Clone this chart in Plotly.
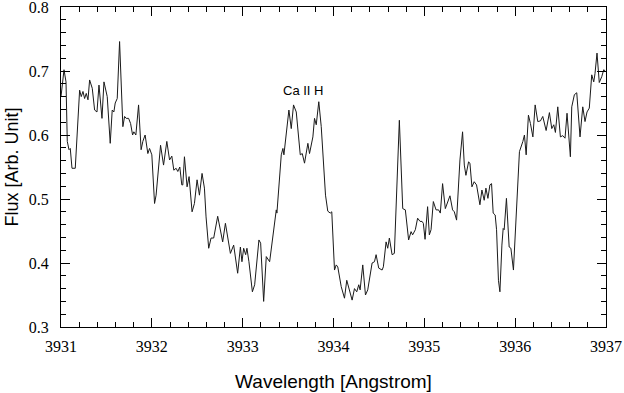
import plotly.graph_objects as go

# Ca II H region, wavelength in Angstrom, flux in arbitrary units
wavelength = [
    3931.000, 3931.033, 3931.055, 3931.069, 3931.088, 3931.102, 3931.121, 3931.157,
    3931.205, 3931.223, 3931.242, 3931.260, 3931.278, 3931.297, 3931.315, 3931.344,
    3931.370, 3931.396, 3931.418, 3931.451, 3931.473, 3931.509, 3931.542, 3931.564,
    3931.582, 3931.597, 3931.619, 3931.645, 3931.681, 3931.700, 3931.718, 3931.744,
    3931.766, 3931.788, 3931.802, 3931.824, 3931.854, 3931.882, 3931.901, 3931.926,
    3931.956, 3931.975,
    3932.000, 3932.030, 3932.047, 3932.096, 3932.129, 3932.165, 3932.195, 3932.220,
    3932.242, 3932.267, 3932.286, 3932.308, 3932.330, 3932.341, 3932.359, 3932.388,
    3932.410, 3932.443, 3932.469, 3932.498, 3932.524, 3932.553, 3932.579, 3932.597,
    3932.626, 3932.652, 3932.681, 3932.725, 3932.780, 3932.810, 3932.865, 3932.901,
    3932.945, 3932.975, 3932.992,
    3933.011, 3933.033, 3933.047, 3933.069, 3933.107, 3933.132, 3933.179, 3933.198,
    3933.231, 3933.260, 3933.297, 3933.370, 3933.377, 3933.425, 3933.443, 3933.454,
    3933.480, 3933.509, 3933.535, 3933.560, 3933.590, 3933.634, 3933.656, 3933.681,
    3933.718, 3933.736, 3933.773, 3933.791, 3933.810, 3933.838, 3933.865, 3933.912,
    3933.937, 3933.964, 3933.981,
    3934.011, 3934.030, 3934.047, 3934.085, 3934.121, 3934.146, 3934.176, 3934.205,
    3934.231, 3934.256, 3934.278, 3934.293, 3934.322, 3934.352, 3934.377, 3934.425,
    3934.451, 3934.469, 3934.498, 3934.535, 3934.549, 3934.579, 3934.597, 3934.615,
    3934.645, 3934.670, 3934.725, 3934.762, 3934.791, 3934.827, 3934.854, 3934.871,
    3934.901, 3934.926, 3934.953, 3934.975, 3934.989,
    3935.008, 3935.036, 3935.055, 3935.074, 3935.099, 3935.129, 3935.157, 3935.176,
    3935.201, 3935.231, 3935.256, 3935.282, 3935.311, 3935.330, 3935.355, 3935.392,
    3935.421, 3935.440, 3935.458, 3935.487, 3935.502, 3935.524, 3935.549, 3935.575,
    3935.612, 3935.634, 3935.659, 3935.678, 3935.700, 3935.722, 3935.740, 3935.758,
    3935.780, 3935.795, 3935.816, 3935.832, 3935.854, 3935.868, 3935.879, 3935.904,
    3935.934, 3935.953, 3935.981,
    3936.022, 3936.047, 3936.085, 3936.102, 3936.121, 3936.146, 3936.168, 3936.195,
    3936.220, 3936.249, 3936.278, 3936.304, 3936.341, 3936.377, 3936.403, 3936.425,
    3936.443, 3936.469, 3936.498, 3936.524, 3936.549, 3936.571, 3936.608, 3936.623,
    3936.652, 3936.678, 3936.714, 3936.744, 3936.769, 3936.791, 3936.816, 3936.843,
    3936.865, 3936.879, 3936.901, 3936.926, 3936.953, 3936.975, 3936.992,
]

flux = [
    0.660, 0.702, 0.683, 0.590, 0.577, 0.579, 0.548, 0.548,
    0.670, 0.660, 0.668, 0.657, 0.665, 0.655, 0.686, 0.673,
    0.639, 0.636, 0.678, 0.626, 0.683, 0.660, 0.587, 0.639,
    0.636, 0.650, 0.657, 0.746, 0.613, 0.629, 0.626, 0.626,
    0.618, 0.600, 0.605, 0.600, 0.647, 0.577, 0.590, 0.600,
    0.571, 0.579,
    0.569, 0.493, 0.506, 0.584, 0.553, 0.590, 0.561, 0.567,
    0.545, 0.548, 0.543, 0.550, 0.522, 0.522, 0.566, 0.519,
    0.535, 0.480, 0.493, 0.530, 0.506, 0.540, 0.517, 0.472,
    0.423, 0.439, 0.439, 0.473, 0.433, 0.462, 0.415, 0.428,
    0.384, 0.425, 0.402,
    0.423, 0.413, 0.423, 0.402, 0.355, 0.366, 0.436, 0.431,
    0.340, 0.410, 0.402, 0.483, 0.478, 0.569, 0.579, 0.569,
    0.603, 0.639, 0.610, 0.647, 0.636, 0.569, 0.571, 0.556,
    0.587, 0.571, 0.597, 0.626, 0.616, 0.652, 0.613, 0.506,
    0.481, 0.478, 0.480,
    0.389, 0.397, 0.394, 0.363, 0.345, 0.373, 0.355, 0.342,
    0.360, 0.355, 0.366, 0.358, 0.397, 0.350, 0.358, 0.400,
    0.402, 0.413, 0.392, 0.389, 0.394, 0.433, 0.423, 0.439,
    0.413, 0.415, 0.623, 0.485, 0.483, 0.436, 0.449, 0.444,
    0.452, 0.470, 0.465, 0.465, 0.462,
    0.437, 0.488, 0.444, 0.452, 0.496, 0.483, 0.483, 0.478,
    0.524, 0.485, 0.496, 0.505, 0.483, 0.480, 0.467, 0.561,
    0.605, 0.553, 0.537, 0.558, 0.556, 0.519, 0.527, 0.522,
    0.491, 0.514, 0.498, 0.517, 0.501, 0.522, 0.524, 0.478,
    0.475, 0.452, 0.373, 0.355, 0.428, 0.454, 0.452, 0.501,
    0.425, 0.423, 0.389,
    0.509, 0.574, 0.590, 0.600, 0.569, 0.631, 0.618, 0.597,
    0.647, 0.621, 0.622, 0.629, 0.607, 0.635, 0.610, 0.616,
    0.604, 0.644, 0.597, 0.599, 0.595, 0.634, 0.566, 0.644,
    0.663, 0.666, 0.597, 0.644, 0.621, 0.636, 0.642, 0.694,
    0.683, 0.696, 0.728, 0.682, 0.691, 0.702, 0.700,
]

x_ticks = [3931, 3932, 3933, 3934, 3935, 3936, 3937]
y_ticks = [0.3, 0.4, 0.5, 0.6, 0.7, 0.8]

label_text = "Ca II H"
label_x = 3933.66
label_y = 0.669

fig = go.Figure()
fig.add_trace(
    go.Scatter(
        x=wavelength,
        y=flux,
        mode="lines",
        line=dict(color="#1a1a1a", width=1),
        showlegend=False,
        hoverinfo="skip",
    )
)

fig.add_annotation(
    x=label_x,
    y=label_y,
    text=label_text,
    showarrow=False,
    font=dict(family="Liberation Sans, Arial", size=13, color="black"),
)

axis_common = dict(
    automargin=False,
    showgrid=False,
    zeroline=False,
    showline=True,
    linecolor="black",
    linewidth=1,
    mirror="allticks",
    ticks="inside",
    ticklen=9,
    tickwidth=1,
    tickcolor="black",
    ticklabeloverflow="allow",
    tickfont=dict(family="Liberation Serif, Times New Roman", size=16, color="black"),
)

fig.update_xaxes(
    **axis_common,
    range=[3931, 3937],
    tickvals=x_ticks,
    ticktext=[str(v) for v in x_ticks],
    ticklabelstandoff=5,
    minor=dict(ticks="inside", ticklen=5, dtick=0.2, tickcolor="black", showgrid=False),
    title=dict(
        text="Wavelength [Angstrom]",
        font=dict(family="Liberation Sans, Arial", size=19, color="black"),
        standoff=20,
    ),
)
fig.update_yaxes(
    **axis_common,
    range=[0.3, 0.8],
    tickvals=y_ticks,
    ticktext=[f"{v:.1f}" for v in y_ticks],
    ticklabelstandoff=8,
    minor=dict(ticks="inside", ticklen=5, dtick=0.02, tickcolor="black", showgrid=False),
    title=dict(
        text="Flux [Arb. Unit]",
        font=dict(family="Liberation Sans, Arial", size=18, color="black"),
        standoff=5,
    ),
)

fig.update_layout(
    width=624,
    height=393,
    margin=dict(l=61, r=18, t=7, b=66, pad=0),
    plot_bgcolor="white",
    paper_bgcolor="white",
)

# page has a default 8px body margin; drop it so the figure sits at the window corner
fig.write_html(
    "out.html",
    config={"displayModeBar": False},
    post_script="document.body.style.margin='0';document.body.style.overflow='hidden';",
)
